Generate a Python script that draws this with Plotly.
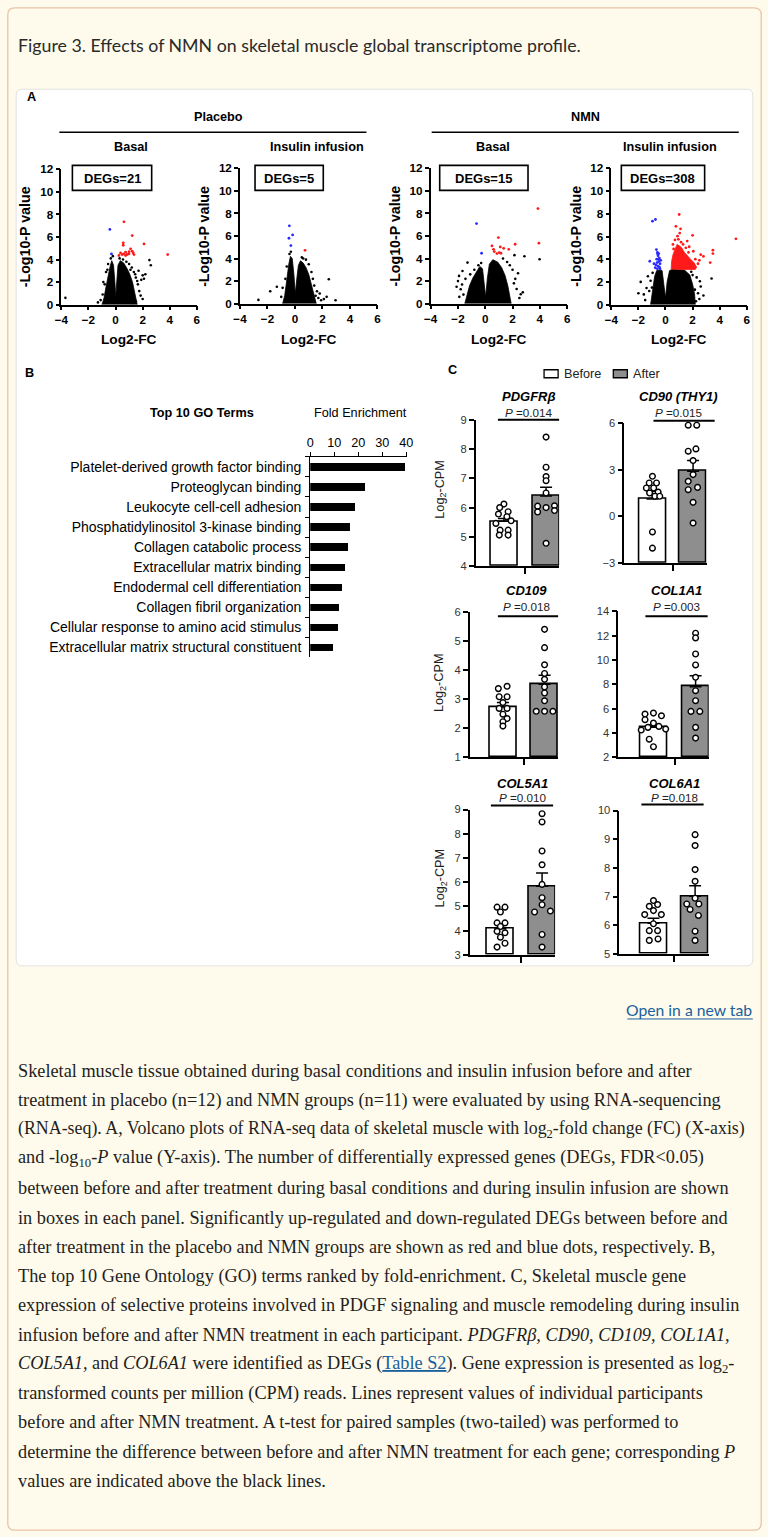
import plotly.graph_objects as go

# The captured picture adds an 8px frame round the page and shrinks it back to
# 768x1537; positions below are given in picture pixels and mapped back to the page.
W, H = 768, 1537
AX, BX = 8 * 768 / 784, 768 / 784
AY, BY = 8 * 1537 / 1553, 1537 / 1553
FS = 1.015  # compensates the slight shrink of the picture


def fx(r):
    return ((r - AX) / BX) / W


def fy(r):
    return 1 - ((r - AY) / BY) / H


# ======================= DATA =======================
# ---- Panel A : volcano plots ----
group_labels = ["Placebo", "NMN"]
condition_labels = ["Basal", "Insulin infusion", "Basal", "Insulin infusion"]
deg_counts = [21, 5, 15, 308]
volcano_xticks = [-4, -2, 0, 2, 4, 6]
volcano_yticks = [0, 2, 4, 6, 8, 10, 12]

# Placebo / Basal
pb_cloud_x = [-1.0, -0.85, -0.7, -0.55, -0.4, -0.28, -0.15, -0.05, 0.02, 0.1, 0.18, 0.35, 0.6, 0.85, 1.05, 1.25, 1.4, 1.55, 1.6]
pb_cloud_y = [0.0, 0.6, 1.6, 2.6, 3.4, 3.9, 3.5, 2.0, 0.7, 2.2, 3.5, 3.9, 3.7, 3.2, 2.7, 2.0, 1.2, 0.5, 0.0]
pb_ns_x = [-3.7, -1.1, -0.95, -0.8, -0.7, -0.55, -0.35, -0.2, 0.3, 0.55, 0.8, 1.0, 1.2, 1.35, 1.5, 1.65, 1.75, 1.85,
           1.9, 2.0, 2.1, 2.2, 2.5, 2.6, 1.7, 1.5, 2.0, 1.2, -1.3, 0.9, 1.1, 1.45, 1.6, -0.9, -0.6]
pb_ns_y = [0.6, 0.4, 0.9, 1.8, 2.9, 3.6, 4.1, 4.3, 4.1, 4.0, 3.8, 3.6, 3.3, 2.9, 2.4, 1.8, 1.2, 0.8,
           2.2, 2.6, 2.3, 2.7, 3.95, 3.5, 3.0, 0.3, 0.5, 0.15, 0.2, 0.35, 3.1, 2.7, 2.1, 2.0, 3.1]
pb_up_x = [0.62, 1.23, 0.57, 0.57, 2.1, 1.11, 1.23, 0.74, 0.37, 0.49, 0.99, 1.36, 3.85, 0.25, 0.74, 1.0, 0.85, 1.3, 0.6]
pb_up_y = [7.35, 6.13, 5.48, 5.27, 5.39, 4.95, 4.74, 4.65, 4.59, 4.44, 4.5, 4.44, 4.44, 4.36, 4.36, 4.7, 4.45, 4.6, 4.5]
pb_dn_x = [-0.42, -0.3]
pb_dn_y = [6.67, 4.5]

# Placebo / Insulin infusion
pi_cloud_x = [-0.9, -0.75, -0.65, -0.55, -0.45, -0.33, -0.2, -0.08, 0.02, 0.15, 0.25, 0.4, 0.6, 0.8, 1.0, 1.15, 1.3, 1.45, 1.55]
pi_cloud_y = [0.0, 0.7, 1.6, 2.6, 3.5, 4.2, 4.0, 2.6, 0.9, 2.4, 3.4, 3.8, 3.6, 3.2, 2.6, 1.9, 1.2, 0.6, 0.0]
pi_ns_x = [-2.66, -1.8, -1.32, -1.0, -0.9, -0.7, -0.6, -0.4, -0.3, 2.46, 2.95, 2.1, 1.5, 1.7, 1.9, 1.3, 1.2, 1.0, 0.8,
           0.6, 1.4, 1.6, 0.5, 0.9, 2.3, 1.8]
pi_ns_y = [0.33, 1.1, 1.5, 0.6, 1.4, 2.2, 3.3, 4.4, 4.6, 2.16, 0.3, 0.4, 0.7, 0.5, 0.3, 2.2, 2.8, 3.5, 3.9,
           4.0, 1.6, 1.1, 4.1, 0.2, 0.6, 0.9]
pi_up_x = [0.73]
pi_up_y = [4.73]
pi_dn_x = [-0.41, -0.17, -0.44, -0.3]
pi_dn_y = [6.9, 6.1, 5.8, 5.15]

# NMN / Basal
nb_cloud_x = [-1.5, -1.35, -1.15, -0.9, -0.65, -0.4, -0.2, -0.06, 0.03, 0.15, 0.3, 0.55, 0.9, 1.2, 1.45, 1.65, 1.8, 1.9]
nb_cloud_y = [0.0, 0.8, 1.6, 2.3, 2.8, 3.3, 3.1, 1.8, 0.6, 2.2, 3.5, 3.9, 3.7, 3.2, 2.5, 1.6, 0.8, 0.0]
nb_ns_x = [-1.67, -1.92, -1.3, -1.8, -2.0, -1.7, -2.1, -1.6, -1.9, -1.1, -0.8, -0.5, 2.75, 2.6, 2.3, 2.2, 2.4, 2.0,
           1.8, 1.6, 1.3, 2.87, 2.14, 3.98, 2.1, 2.5, 1.2, -1.2, -1.45, -0.3]
nb_ns_y = [2.9, 2.46, 3.64, 1.27, 2.0, 1.7, 1.5, 0.8, 0.6, 2.6, 3.0, 3.4, 1.0, 0.83, 1.3, 2.2, 2.7, 3.0,
           3.4, 3.7, 4.0, 4.2, 4.3, 3.94, 1.8, 0.5, 0.3, 0.4, 2.2, 3.6]
nb_up_x = [3.86, 0.96, 3.93, 2.19, 0.49, 1.1, 0.61, 1.35, 1.72, 0.66, 1.03, 1.15, 0.86]
nb_up_y = [8.43, 5.86, 5.36, 5.27, 5.12, 5.03, 4.82, 4.91, 4.82, 4.62, 4.53, 4.47, 4.44]
nb_dn_x = [-0.64, -0.27]
nb_dn_y = [7.1, 4.47]

# NMN / Insulin infusion
ni_cloud_x = [-1.1, -1.0, -0.9, -0.8, -0.65, -0.45, -0.25, -0.1, 0.0, 0.12, 0.3, 0.5, 0.9, 1.4, 1.8, 2.0, 2.15, 2.2]
ni_cloud_y = [0.0, 0.8, 1.7, 2.5, 3.0, 3.05, 3.0, 1.8, 0.6, 2.0, 3.0, 3.1, 3.1, 3.05, 2.6, 1.8, 0.9, 0.0]
ni_upcloud_x = [0.42, 0.45, 0.55, 0.7, 0.85, 1.0, 1.2, 1.4, 1.6, 1.85, 2.1, 2.3, 2.2, 1.8, 1.2, 0.7]
ni_upcloud_y = [3.1, 3.8, 4.4, 4.9, 5.3, 5.2, 5.0, 4.6, 4.3, 4.0, 3.7, 3.3, 3.1, 3.1, 3.1, 3.1]
ni_ns_x = [3.4, -1.83, -1.4, 2.54, 2.17, -1.6, -1.2, -1.3, -1.1, -1.5, 2.4, 2.6, 2.3, 2.0, 2.5, 1.6, 2.8, -0.3,
           -0.95, 1.9, -1.0, 2.25, 1.2, -2.0]
ni_ns_y = [2.3, 2.0, 1.47, 2.06, 1.32, 0.9, 1.2, 2.5, 2.1, 0.4, 1.0, 1.6, 2.4, 2.6, 0.5, 0.2, 0.8, 0.4,
           2.8, 2.9, 1.5, 0.3, 0.3, 1.0]
ni_up_x = [1.93, 1.01, 0.77, 1.11, 2.0, 0.89, 0.7, 0.95, 1.15, 1.3, 1.5, 1.7, 2.6, 2.8, 3.5, 3.5, 3.3, 5.2, 2.4, 2.5,
           0.55, 1.05, 0.6, 1.75, 2.2, 1.6, 2.05]
ni_up_y = [10.2, 7.94, 6.9, 6.68, 6.1, 6.03, 5.7, 5.75, 5.5, 5.3, 5.0, 4.6, 4.4, 4.25, 4.8, 4.5, 3.7, 5.8, 3.6, 3.9,
           5.3, 6.3, 4.9, 5.1, 4.0, 5.6, 4.7]
ni_dn_x = [-0.74, -0.96, -0.67, -0.6, -0.5, -0.55, -0.45, -0.65, -0.5, -0.4, -0.7, -0.55, -0.45, -0.75, -0.6, -0.4,
           -0.85, -1.16, -0.35, -0.5, -0.62, -0.58]
ni_dn_y = [7.5, 7.35, 4.85, 4.6, 4.5, 4.3, 4.1, 4.0, 3.8, 3.6, 3.5, 3.4, 3.3, 3.25, 3.15, 3.15,
           3.6, 3.82, 3.9, 4.0, 3.7, 4.45]

# ---- Panel B : GO terms ----
go_terms = ["Platelet-derived growth factor binding", "Proteoglycan binding", "Leukocyte cell-cell adhesion",
            "Phosphatidylinositol 3-kinase binding", "Collagen catabolic process", "Extracellular matrix binding",
            "Endodermal cell differentiation", "Collagen fibril organization",
            "Cellular response to amino acid stimulus", "Extracellular matrix structural constituent"]
go_fold = [39.6, 22.7, 18.8, 16.5, 15.8, 14.7, 13.3, 12.2, 11.6, 9.6]
go_xticks = [0, 10, 20, 30, 40]

# ---- Panel C : gene expression (Log2-CPM) ----
genes = ["PDGFRβ", "CD90 (THY1)", "CD109", "COL1A1", "COL5A1", "COL6A1"]
p_values = ["0.014", "0.015", "0.018", "0.003", "0.010", "0.018"]
before_mean = [5.53, 1.11, 2.74, 4.47, 4.08, 6.07]
before_sem = [0.1, 0.5, 0.15, 0.2, 0.2, 0.17]
after_mean = [6.4, 2.9, 3.52, 7.81, 5.83, 7.01]
after_sem = [0.3, 0.68, 0.31, 0.9, 0.55, 0.37]
gene_ymin = [4, -3, 1, 2, 3, 5]
gene_ymax = [9, 6, 6, 14, 9, 10]
gene_dtick = [1, 3, 1, 2, 1, 1]

pdgfrb_before = [6.12, 6.0, 5.86, 5.78, 5.69, 5.55, 5.46, 5.23, 5.23, 5.06, 5.06]
pdgfrb_after = [8.41, 7.38, 7.06, 6.92, 6.5, 6.05, 6.0, 6.06, 5.85, 5.9, 4.78]
cd90_before = [2.57, 2.14, 2.14, 1.82, 1.82, 1.56, 1.5, 1.29, 1.29, -1.0, -2.04]
cd90_after = [5.85, 5.85, 4.18, 4.33, 3.58, 2.68, 2.25, 1.86, 1.71, 0.9, -0.43]
cd109_before = [3.37, 3.45, 3.09, 3.09, 2.89, 2.69, 2.69, 2.49, 2.34, 2.23, 2.08]
cd109_after = [5.41, 4.78, 4.19, 3.89, 3.69, 3.43, 3.22, 2.95, 2.59, 2.59, 2.59]
col1a1_before = [5.56, 5.64, 5.42, 5.1, 4.82, 4.47, 4.55, 4.25, 4.33, 3.5, 2.88]
col1a1_after = [12.19, 11.81, 10.49, 9.59, 8.58, 7.48, 6.66, 5.78, 5.78, 4.47, 3.59]
col5a1_before = [4.97, 4.97, 4.77, 4.32, 4.32, 4.17, 3.97, 3.91, 3.73, 3.48, 3.32]
col5a1_after = [8.83, 8.49, 7.29, 6.72, 5.91, 5.36, 5.07, 4.77, 4.81, 3.84, 3.32]
col6a1_before = [6.86, 6.66, 6.72, 6.51, 6.37, 6.37, 6.05, 5.81, 5.81, 5.47, 5.52]
col6a1_after = [9.16, 8.78, 7.94, 7.53, 6.94, 6.74, 6.74, 6.55, 6.34, 5.79, 5.47]

# horizontal scatter of the dots around each bar centre (in bar-spacing units)
pdgfrb_before_jit = [0, -0.1, 0.1, -0.13, 0.07, 0.17, -0.19, -0.09, 0.1, -0.11, 0.1]
pdgfrb_after_jit = [0, 0, 0, 0, 0, -0.2, 0, 0.2, -0.2, 0.2, 0]
cd90_before_jit = [0, -0.08, 0.1, -0.15, 0.03, 0.14, -0.07, 0.06, 0.18, 0, 0]
cd90_after_jit = [-0.12, 0.09, -0.12, 0.07, 0, 0, -0.12, 0.11, -0.12, 0, 0]
cd109_before_jit = [-0.11, 0.1, -0.09, 0.1, 0, -0.09, 0.1, 0, 0.1, 0, 0]
cd109_after_jit = [0, 0, 0, 0, 0, 0, 0, 0, -0.2, 0, 0.2]
col1a1_before_jit = [-0.2, 0, 0.19, -0.2, 0, -0.13, 0.13, -0.29, 0.29, -0.1, 0]
col1a1_after_jit = [0, 0, 0, 0, 0, 0, 0, -0.11, 0.1, 0, 0]
col5a1_before_jit = [-0.08, 0.11, 0, -0.08, 0.11, 0, -0.08, 0.11, 0, 0.11, -0.08]
col5a1_after_jit = [0, 0, 0, 0, 0, 0, 0, -0.18, 0.2, 0, 0]
col6a1_before_jit = [0, -0.1, 0.1, 0, -0.21, 0.19, 0, -0.1, 0.1, -0.1, 0.11]
col6a1_after_jit = [0, 0, 0, 0, 0, -0.2, 0.09, -0.12, 0.08, 0, 0]

# ---- Text ----
figure_title = "Figure 3. Effects of NMN on skeletal muscle global transcriptome profile."
link_text = "Open in a new tab"
caption_lines = [
    "Skeletal muscle tissue obtained during basal conditions and insulin infusion before and after",
    "treatment in placebo (n=12) and NMN groups (n=11) were evaluated by using RNA-sequencing",
    "(RNA-seq). A, Volcano plots of RNA-seq data of skeletal muscle with log<sub>2</sub>-fold change (FC) (X-axis)",
    "and -log<sub>10</sub>-<i>P</i> value (Y-axis). The number of differentially expressed genes (DEGs, FDR&lt;0.05)",
    "between before and after treatment during basal conditions and during insulin infusion are shown",
    "in boxes in each panel. Significantly up-regulated and down-regulated DEGs between before and",
    "after treatment in the placebo and NMN groups are shown as red and blue dots, respectively. B,",
    "The top 10 Gene Ontology (GO) terms ranked by fold-enrichment. C, Skeletal muscle gene",
    "expression of selective proteins involved in PDGF signaling and muscle remodeling during insulin",
    "infusion before and after NMN treatment in each participant. <i>PDGFRβ, CD90, CD109, COL1A1,</i>",
    "<i>COL5A1,</i> and <i>COL6A1</i> were identified as DEGs (<span style='color:#1a5f9e;text-decoration:underline'>Table S2</span>). Gene expression is presented as log<sub>2</sub>-",
    "transformed counts per million (CPM) reads. Lines represent values of individual participants",
    "before and after NMN treatment. A t-test for paired samples (two-tailed) was performed to",
    "determine the difference between before and after NMN treatment for each gene; corresponding <i>P</i>",
    "values are indicated above the black lines.",
]
caption_sizes = [18, 18, 17.6, 18, 18, 18, 18, 18, 18, 18, 18, 18, 18, 18, 18]

# ======================= STYLE / LAYOUT =======================
FIG_FONT = "Liberation Sans"
SERIF = "Liberation Serif"
UI_FONT = "Lato"
CREAM = "#fefbec"
BORDER = "#eac3a8"
RED = "#ff1a1a"
BLUE = "#2a2aff"
GREY_BAR = "#8e8e8e"

fig = go.Figure()
layout = {}
annotations = []
shapes = []


def ann(text, x, y, size=12, color="black", family=FIG_FONT, xanchor="center", yanchor="middle", angle=0):
    annotations.append(dict(text=text, x=fx(x), y=fy(y), xref="paper", yref="paper", showarrow=False,
                            font=dict(size=size * FS, color=color, family=family), xanchor=xanchor,
                            yanchor=yanchor, textangle=angle, borderpad=0))


def line_px(x0, y0, x1, y1, width=1.5, color="black"):
    shapes.append(dict(type="line", xref="paper", yref="paper", x0=fx(x0), y0=fy(y0), x1=fx(x1), y1=fy(y1),
                       line=dict(color=color, width=width), layer="above"))


def rect_px(x0, y0, x1, y1, fill="white", color="black", width=1.5, layer="above"):
    shapes.append(dict(type="rect", xref="paper", yref="paper", x0=fx(x0), y0=fy(y0), x1=fx(x1), y1=fy(y1),
                       fillcolor=fill, line=dict(color=color, width=width), layer=layer))


def rounded_px(x0, y0, x1, y1, r, fill, color, width):
    pts = [
        ("M", [(x0 + r, y0)]), ("L", [(x1 - r, y0)]), ("Q", [(x1, y0), (x1, y0 + r)]),
        ("L", [(x1, y1 - r)]), ("Q", [(x1, y1), (x1 - r, y1)]), ("L", [(x0 + r, y1)]),
        ("Q", [(x0, y1), (x0, y1 - r)]), ("L", [(x0, y0 + r)]), ("Q", [(x0, y0), (x0 + r, y0)]),
    ]
    path = ""
    for cmd, ps in pts:
        path += cmd + " " + " ".join(f"{fx(px):.6f},{fy(py):.6f}" for px, py in ps) + " "
    path += "Z"
    shapes.append(dict(type="path", xref="paper", yref="paper", path=path, fillcolor=fill,
                       line=dict(color=color, width=width), layer="below"))


def axname(k):
    return ("x" if k == 1 else f"x{k}"), ("y" if k == 1 else f"y{k}")


def axkey(k):
    return ("xaxis" if k == 1 else f"xaxis{k}"), ("yaxis" if k == 1 else f"yaxis{k}")


# page background + figure panel (outer border as close to the edge as the page allows)
rounded_px(AX + BX * 0.8, AY + BY * 0.8, AX + BX * 767.2, AY + BY * 1536.2, 7, CREAM, BORDER, 1.3)
rounded_px(17, 90, 751, 965, 6, "white", "#e2e2e2", 1)

ann(figure_title, 18, 46, size=17.5, color="#2a2a2a", family=UI_FONT, xanchor="left")

# ---------------- Panel A ----------------
volcano_sets = [
    dict(cloud=(pb_cloud_x, pb_cloud_y), ns=(pb_ns_x, pb_ns_y), up=(pb_up_x, pb_up_y), dn=(pb_dn_x, pb_dn_y), upcloud=None),
    dict(cloud=(pi_cloud_x, pi_cloud_y), ns=(pi_ns_x, pi_ns_y), up=(pi_up_x, pi_up_y), dn=(pi_dn_x, pi_dn_y), upcloud=None),
    dict(cloud=(nb_cloud_x, nb_cloud_y), ns=(nb_ns_x, nb_ns_y), up=(nb_up_x, nb_up_y), dn=(nb_dn_x, nb_dn_y), upcloud=None),
    dict(cloud=(ni_cloud_x, ni_cloud_y), ns=(ni_ns_x, ni_ns_y), up=(ni_up_x, ni_up_y), dn=(ni_dn_x, ni_dn_y),
         upcloud=(ni_upcloud_x, ni_upcloud_y)),
]
volc_geom = [(62, 197, 170, 305), (240, 377, 169, 304), (430, 566, 169, 304), (610, 745, 169, 305)]
deg_box = [(73, 152, 166, 191), (255, 323, 166, 191), (439, 527, 166, 191), (620, 703, 166, 191)]
cond_pos = [(131, 148), (317, 148), (492, 148), (668, 148)]

ann("<b>A</b>", 32, 98, size=12.5)
ann("<b>" + group_labels[0] + "</b>", 219, 118, size=12.5)
ann("<b>" + group_labels[1] + "</b>", 584, 118, size=12.5)
line_px(60, 133, 366, 133, width=1.5)
line_px(431, 133, 737, 133, width=1.5)

for i, vs in enumerate(volcano_sets):
    k = i + 1
    xn, yn = axname(k)
    xk, yk = axkey(k)
    x0, x1, yt, yb = volc_geom[i]
    axstyle = dict(showgrid=False, zeroline=False, showline=True, linecolor="black", linewidth=1.6,
                   ticks="outside", ticklen=4, tickwidth=1.5, tickcolor="black",
                   tickfont=dict(family=FIG_FONT, size=11.5 * FS, color="black", weight="bold"), fixedrange=True)
    layout[xk] = dict(domain=[fx(x0), fx(x1)], range=[-4, 6], tickvals=volcano_xticks, anchor=yn, **axstyle)
    layout[yk] = dict(domain=[fy(yb), fy(yt)], range=[0, 12], tickvals=volcano_yticks, anchor=xn, **axstyle)

    cx, cy = vs["cloud"]
    fig.add_trace(go.Scatter(x=cx, y=cy, mode="lines", fill="toself", fillcolor="black",
                             line=dict(color="black", width=0.8), xaxis=xn, yaxis=yn, showlegend=False,
                             hoverinfo="skip"))
    nx, ny = vs["ns"]
    fig.add_trace(go.Scatter(x=nx, y=ny, mode="markers", marker=dict(size=2.6, color="black"),
                             xaxis=xn, yaxis=yn, showlegend=False))
    if vs["upcloud"] is not None:
        ux, uy = vs["upcloud"]
        fig.add_trace(go.Scatter(x=ux, y=uy, mode="lines", fill="toself", fillcolor=RED,
                                 line=dict(color=RED, width=0.8), xaxis=xn, yaxis=yn, showlegend=False,
                                 hoverinfo="skip"))
    ux, uy = vs["up"]
    fig.add_trace(go.Scatter(x=ux, y=uy, mode="markers", marker=dict(size=2.8, color=RED),
                             xaxis=xn, yaxis=yn, showlegend=False))
    dx, dy = vs["dn"]
    fig.add_trace(go.Scatter(x=dx, y=dy, mode="markers", marker=dict(size=2.8, color=BLUE),
                             xaxis=xn, yaxis=yn, showlegend=False))

    bx0, bx1, by0, by1 = deg_box[i]
    rect_px(bx0, by0, bx1, by1, width=1.6)
    ann(f"<b>DEGs={deg_counts[i]}</b>", (bx0 + bx1) / 2, (by0 + by1) / 2 + 0.5, size=12.8)
    ann("<b>" + condition_labels[i] + "</b>", cond_pos[i][0], cond_pos[i][1], size=12.5)
    ann("<b>-Log10-P value</b>", x0 - 36, (yt + yb) / 2, size=14, angle=-90)
    ann("<b>Log2-FC</b>", (x0 + x1) / 2, 340, size=13.5)

# ---------------- Panel B ----------------
kB = 5
xn, yn = axname(kB)
xk, yk = axkey(kB)
layout[xk] = dict(domain=[fx(310), fx(406.5)], range=[0, 40.3], side="top", tickvals=go_xticks, anchor=yn,
                  showgrid=False, zeroline=False, showline=True, linecolor="black", linewidth=1.3,
                  ticks="outside", ticklen=4, tickwidth=1.2, tickcolor="black",
                  tickfont=dict(family=FIG_FONT, size=12.5 * FS, color="black"), fixedrange=True)
layout[yk] = dict(domain=[fy(657), fy(457)], type="category", categoryorder="array", categoryarray=go_terms,
                  range=[9.5, -0.5], tickson="boundaries", anchor=xn, ticklabelstandoff=5,
                  showgrid=False, zeroline=False, showline=True, linecolor="black", linewidth=1.3,
                  ticks="outside", ticklen=4, tickwidth=1.2, tickcolor="black",
                  tickfont=dict(family=FIG_FONT, size=13.8 * FS, color="black"), fixedrange=True)
fig.add_trace(go.Bar(x=go_fold, y=go_terms, orientation="h", width=0.37, marker=dict(color="black", line_width=0),
                     xaxis=xn, yaxis=yn, showlegend=False))
ann("<b>B</b>", 30, 373, size=12.5)
ann("<b>Top 10 GO Terms</b>", 202, 413, size=12.5)
ann("Fold Enrichment", 360, 413, size=12.5)

# ---------------- Panel C ----------------
before_sets = [pdgfrb_before, cd90_before, cd109_before, col1a1_before, col5a1_before, col6a1_before]
after_sets = [pdgfrb_after, cd90_after, cd109_after, col1a1_after, col5a1_after, col6a1_after]
before_jits = [pdgfrb_before_jit, cd90_before_jit, cd109_before_jit, col1a1_before_jit, col5a1_before_jit,
               col6a1_before_jit]
after_jits = [pdgfrb_after_jit, cd90_after_jit, cd109_after_jit, col1a1_after_jit, col5a1_after_jit,
              col6a1_after_jit]

gene_geom = [
    dict(xa=475, xr=558, bc=503, ac=545, yt=420, yb=566),
    dict(xa=623, xr=705, bc=651, ac=691.5, yt=423, yb=563),
    dict(xa=469, xr=557, bc=502, ac=543.5, yt=612, yb=757),
    dict(xa=617, xr=707, bc=652, ac=694, yt=611, yb=757),
    dict(xa=469, xr=554, bc=499.5, ac=541, yt=809, yb=954),
    dict(xa=618, xr=707, bc=652, ac=693.5, yt=810, yb=953),
]
title_pos = [(528, 397, 413), (677, 397, 413), (525, 590, 606), (675, 590, 606), (522, 783, 797), (673, 783, 797)]
pline = [(497, 558, 420), (652, 713, 421), (497, 557, 616), (644, 706, 616), (490, 552, 805), (640, 702, 804)]

for g in range(6):
    k = 6 + g
    xn, yn = axname(k)
    xk, yk = axkey(k)
    gm = gene_geom[g]
    sp = gm["ac"] - gm["bc"]
    xr0 = -(gm["bc"] - gm["xa"]) / sp
    xr1 = 1 + (gm["xr"] - gm["ac"]) / sp
    bw = 27 / sp
    layout[xk] = dict(domain=[fx(gm["xa"]), fx(gm["xr"])], range=[xr0, xr1], tickvals=[0.5], showticklabels=False,
                      anchor=yn, showgrid=False, zeroline=False, showline=True, linecolor="black", linewidth=1.6,
                      ticks="outside", ticklen=6, tickwidth=1.5, tickcolor="black", fixedrange=True)
    layout[yk] = dict(domain=[fy(gm["yb"]), fy(gm["yt"])], range=[gene_ymin[g], gene_ymax[g]],
                      dtick=gene_dtick[g], tick0=gene_ymin[g], anchor=xn, showgrid=False, zeroline=False,
                      showline=True, linecolor="black", linewidth=1.6, ticks="outside", ticklen=5,
                      tickwidth=1.5, tickcolor="black",
                      tickfont=dict(family=FIG_FONT, size=11 * FS, color="#333333"), fixedrange=True)
    ymin = gene_ymin[g]
    fig.add_trace(go.Bar(
        x=[0, 1], y=[before_mean[g] - ymin, after_mean[g] - ymin], base=[ymin, ymin], width=bw,
        marker=dict(color=["white", GREY_BAR], line=dict(color="black", width=1.6)),
        error_y=dict(type="data", symmetric=False, array=[before_sem[g], after_sem[g]], arrayminus=[0, 0],
                     color="black", thickness=1.5, width=6),
        xaxis=xn, yaxis=yn, showlegend=False))
    xs = [0 + j for j in before_jits[g]] + [1 + j for j in after_jits[g]]
    ys = before_sets[g] + after_sets[g]
    fig.add_trace(go.Scatter(x=xs, y=ys, mode="markers", cliponaxis=False,
                             marker=dict(symbol="circle", size=5.7, color="white",
                                         line=dict(color="black", width=1.4)),
                             xaxis=xn, yaxis=yn, showlegend=False))
    tx, ty, py = title_pos[g]
    ann("<b><i>" + genes[g] + "</i></b>", tx, ty, size=12.8)
    ann("<i>P</i> =" + p_values[g], tx, py, size=11.5, color="#222222")
    lx0, lx1, ly = pline[g]
    line_px(lx0, ly, lx1, ly, width=2)

for yc in [490, 683, 878]:
    ann("Log<sub>2</sub>-CPM", 440, yc, size=12.5, color="#222222", angle=-90)

ann("<b>C</b>", 452, 370, size=12.5)
rect_px(543, 370, 557, 378, fill="white", width=1.3)
ann("Before", 562, 374, size=12.5, xanchor="left", color="#222222")
rect_px(612, 370, 626, 378, fill=GREY_BAR, width=1.3)
ann("After", 631, 374, size=12.5, xanchor="left", color="#222222")

# ---------------- Link + caption ----------------
ann(link_text, 751, 1009, size=15.5, color="#1a5f9e", family=UI_FONT, xanchor="right")
line_px(626, 1018, 751, 1018, width=1, color="#1a5f9e")

for i, txt in enumerate(caption_lines):
    ann(txt, 18, 1070 + 29.25 * i, size=caption_sizes[i], color="#1e1e1e", family=SERIF, xanchor="left")

layout.update(dict(
    width=W, height=H, margin=dict(l=0, r=0, t=0, b=0), paper_bgcolor=CREAM,
    plot_bgcolor="rgba(0,0,0,0)", showlegend=False, bargap=0, annotations=annotations, shapes=shapes,
    font=dict(family=FIG_FONT),
))
fig.update_layout(**layout)
fig.write_html("out.html", config={"displayModeBar": False},
               post_script="document.body.style.margin='0';document.body.style.overflow='hidden';"
                           "document.body.style.background='#fefbec';")
